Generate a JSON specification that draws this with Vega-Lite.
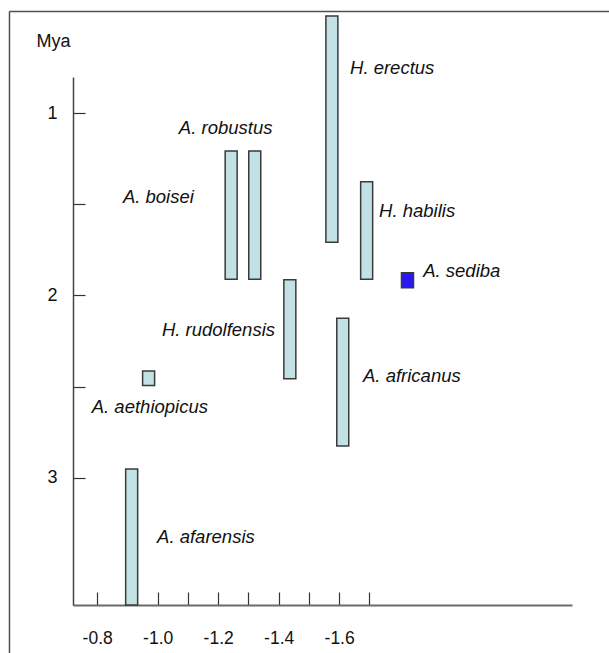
{
  "$schema": "https://vega.github.io/schema/vega-lite/v6.json",
  "autosize": "none",
  "width": 499,
  "height": 528,
  "padding": {"left": 73, "top": 77, "right": 37, "bottom": 48},
  "background": "white",
  "config": {
    "view": {"stroke": null},
    "font": "Liberation Sans",
    "axis": {"grid": false}
  },
  "data": {
    "values": [
      {"species": "A. afarensis", "x": -0.914, "ymin": 2.953, "ymax": 3.7, "group": "fossil", "lx": -0.998, "ly": 3.316},
      {"species": "A. aethiopicus", "x": -0.970, "ymin": 2.415, "ymax": 2.495, "group": "fossil", "lx": -0.782, "ly": 2.602},
      {"species": "A. boisei", "x": -1.243, "ymin": 1.207, "ymax": 1.911, "group": "fossil", "lx": -0.885, "ly": 1.448},
      {"species": "A. robustus", "x": -1.321, "ymin": 1.207, "ymax": 1.911, "group": "fossil", "lx": -1.070, "ly": 1.069},
      {"species": "H. erectus", "x": -1.576, "ymin": 0.465, "ymax": 1.708, "group": "fossil", "lx": -1.636, "ly": 0.739},
      {"species": "H. habilis", "x": -1.691, "ymin": 1.375, "ymax": 1.911, "group": "fossil", "lx": -1.732, "ly": 1.525},
      {"species": "A. sediba", "x": -1.826, "ymin": 1.875, "ymax": 1.957, "group": "sediba", "lx": -1.878, "ly": 1.854},
      {"species": "H. rudolfensis", "x": -1.437, "ymin": 1.913, "ymax": 2.457, "group": "fossil", "lx": -1.014, "ly": 2.179},
      {"species": "A. africanus", "x": -1.612, "ymin": 2.125, "ymax": 2.827, "group": "fossil", "lx": -1.679, "ly": 2.431}
    ]
  },
  "layer": [
    {
      "data": {"values": [{}]},
      "mark": {"type": "rule", "color": "#505050", "strokeWidth": 1.5},
      "encoding": {
        "x": {"datum": -0.51, "type": "quantitative"},
        "x2": {"datum": -2.6},
        "y": {"datum": 0.44, "type": "quantitative"}
      }
    },
    {
      "data": {"values": [{}]},
      "mark": {"type": "rule", "color": "#505050", "strokeWidth": 1.5},
      "encoding": {
        "x": {"datum": -0.51, "type": "quantitative"},
        "y": {"datum": 0.44, "type": "quantitative"},
        "y2": {"datum": 4.0}
      }
    },
    {
      "mark": {"type": "bar", "width": 12, "stroke": "#3a3a3a", "strokeWidth": 1.5, "clip": false},
      "encoding": {
        "x": {
          "field": "x", "type": "quantitative",
          "scale": {"domain": [-0.72, -2.37], "nice": false, "zero": false, "padding": 0},
          "axis": {
            "title": null,
            "values": [-0.8, -0.9, -1.0, -1.1, -1.2, -1.3, -1.4, -1.5, -1.6, -1.7],
            "labelExpr": "abs(round(datum.value * 10)) % 2 == 0 ? replace(format(datum.value, '.1f'), '\u2212', '-') : ''",
            "tickSize": -13,
            "tickColor": "#333333",
            "tickWidth": 1.2,
            "domainColor": "#6a6a6a",
            "domainWidth": 2,
            "labelPadding": 37,
            "labelFontSize": 17.5,
            "labelColor": "#111111",
            "labelFont": "Liberation Sans",
            "labelFlush": false,
            "labelOverlap": false
          }
        },
        "y": {
          "field": "ymin", "type": "quantitative",
          "scale": {"domain": [0.8, 3.7], "reverse": true, "nice": false, "zero": false, "padding": 0},
          "axis": {
            "title": "Mya",
            "titleAngle": 0,
            "titleAlign": "left",
            "titleBaseline": "middle",
            "titleX": -37,
            "titleY": -36,
            "titleFontSize": 18,
            "titleFontWeight": "normal",
            "titleColor": "#111111",
            "titleFont": "Liberation Sans",
            "values": [1, 1.5, 2, 2.5, 3],
            "labelExpr": "datum.value % 1 == 0 ? format(datum.value, 'd') : ''",
            "tickSize": -12,
            "tickColor": "#333333",
            "tickWidth": 1.2,
            "domainColor": "#444444",
            "domainWidth": 1.5,
            "labelPadding": 28,
            "labelFontSize": 18,
            "labelColor": "#111111",
            "labelFont": "Liberation Sans",
            "labelFlush": false,
            "labelOverlap": false
          }
        },
        "y2": {"field": "ymax"},
        "color": {
          "field": "group", "type": "nominal",
          "scale": {"domain": ["fossil", "sediba"], "range": ["#c2e1e4", "#2a17f5"]},
          "legend": null
        }
      }
    },
    {
      "mark": {"type": "text", "align": "left", "baseline": "middle", "dy": 2, "fontStyle": "italic", "font": "Liberation Sans", "fontSize": 18.5, "color": "#111111"},
      "encoding": {
        "x": {"field": "lx", "type": "quantitative"},
        "y": {"field": "ly", "type": "quantitative"},
        "text": {"field": "species"}
      }
    }
  ]
}
